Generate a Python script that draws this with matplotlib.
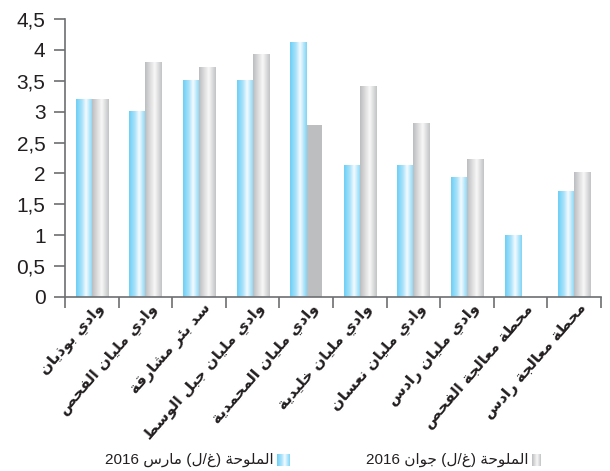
import numpy as np
import matplotlib
matplotlib.use('Agg')
import matplotlib.pyplot as plt
import matplotlib.transforms as mtransforms
from matplotlib.colors import LinearSegmentedColormap
from matplotlib.ticker import FuncFormatter

# salinity (g/L) per sampling station
stations = [
    'وادي بوذيان',
    'وادي مليان الفحص',
    'سد بئر مشارقة',
    'وادي مليان جبل الوسط',
    'وادي مليان المحمدية',
    'وادي مليان خليدية',
    'وادي مليان نعسان',
    'وادي مليان رادس',
    'محطة معالجة الفحص',
    'محطة معالجة رادس',
]
march_2016 = [3.2, 3.0, 3.5, 3.5, 4.12, 2.13, 2.13, 1.93, 1.0, 1.71]
june_2016 = [3.2, 3.8, 3.72, 3.92, 2.79, 3.41, 2.81, 2.23, 0.0, 2.02]
series_names = ['الملوحة (غ/ل) مارس 2016', 'الملوحة (غ/ل) جوان 2016']
yticks = [0, 0.5, 1, 1.5, 2, 2.5, 3, 3.5, 4, 4.5]

# one June bar is drawn flat instead of with the cylinder shading
flat_june_bar = 4

# --- minimal Arabic shaping (matplotlib has no bidi / joining support) ---
DUAL = {'ئ': 0xFE89, 'ب': 0xFE8F, 'ت': 0xFE95, 'ث': 0xFE99, 'ج': 0xFE9D,
        'ح': 0xFEA1, 'خ': 0xFEA5, 'س': 0xFEB1, 'ش': 0xFEB5, 'ص': 0xFEB9,
        'ض': 0xFEBD, 'ط': 0xFEC1, 'ظ': 0xFEC5, 'ع': 0xFEC9, 'غ': 0xFECD,
        'ف': 0xFED1, 'ق': 0xFED5, 'ك': 0xFED9, 'ل': 0xFEDD, 'م': 0xFEE1,
        'ن': 0xFEE5, 'ه': 0xFEE9, 'ي': 0xFEF1}
RIGHT = {'ا': 0xFE8D, 'ة': 0xFE93, 'د': 0xFEA9, 'ذ': 0xFEAB, 'ر': 0xFEAD,
         'ز': 0xFEAF, 'و': 0xFEED, 'أ': 0xFE83, 'إ': 0xFE87, 'آ': 0xFE81,
         'ى': 0xFEEF}
MIRROR = {'(': ')', ')': '('}


def is_arabic(c):
    return c in DUAL or c in RIGHT


def shape(word):
    out = []
    for i, ch in enumerate(word):
        if not is_arabic(ch):
            out.append(MIRROR.get(ch, ch))
            continue
        prev = word[i - 1] if i > 0 else ''
        nxt = word[i + 1] if i + 1 < len(word) else ''
        joins_prev = prev in DUAL
        joins_next = ch in DUAL and is_arabic(nxt)
        base = DUAL.get(ch, RIGHT.get(ch))
        if joins_prev and joins_next:
            off = 3
        elif joins_prev:
            off = 1
        elif joins_next:
            off = 2
        else:
            off = 0
        out.append(chr(base + off))
    return ''.join(out)[::-1]


def visual(text):
    # right-to-left word order, numbers stay as they are
    words = []
    for w in text.split(' ')[::-1]:
        words.append(w if w.isdigit() else shape(w))
    return ' '.join(words)


def gradient(stops):
    cmap = LinearSegmentedColormap.from_list('g', stops)
    return cmap(np.linspace(0, 1, 64))[np.newaxis, :, :]


blue_grad = gradient([(0, '#6ccff6'), (0.35, '#a9e3fa'), (0.6, '#f4fbff'), (1, '#7fd5f7')])
grey_grad = gradient([(0, '#bcbdc0'), (0.3, '#dcdcdd'), (0.58, '#f8f8f8'), (1, '#c2c3c5')])

fig = plt.figure(figsize=(6.10, 4.71), dpi=100)
ax = fig.add_axes([65 / 610, 1 - 297 / 471, 536 / 610, 278 / 471])

x = np.arange(len(stations))
w = 0.3
blue_bars = ax.bar(x - w / 2, march_2016, w, color='none', linewidth=0)
grey_bars = ax.bar(x + w / 2, june_2016, w, color='none', linewidth=0)

for bars, grad in [(blue_bars, blue_grad), (grey_bars, grey_grad)]:
    for i, rect in enumerate(bars):
        x0, y0 = rect.get_xy()
        h = rect.get_height()
        if h <= 0:
            continue
        if bars is grey_bars and i == flat_june_bar:
            rect.set_facecolor('#bcbec0')
            continue
        ax.imshow(grad, extent=(x0, x0 + rect.get_width(), y0, y0 + h),
                  aspect='auto', interpolation='bilinear', zorder=2)

ax.set_xlim(-0.5, len(stations) - 0.5)
ax.set_ylim(0, 4.5)
ax.set_aspect('auto')

for side in ['top', 'right']:
    ax.spines[side].set_visible(False)
for side in ['left', 'bottom']:
    ax.spines[side].set_color('#6d6e71')
    ax.spines[side].set_linewidth(1.2)

ax.set_yticks(yticks)
ax.yaxis.set_major_formatter(FuncFormatter(lambda v, p: ('%g' % v).replace('.', ',')))
ax.tick_params(axis='y', length=8, width=1.2, color='#6d6e71', labelsize=15,
               labelcolor='#231f20', pad=6)
for lab in ax.get_yticklabels():
    lab.set_family(['Liberation Sans', 'DejaVu Sans'])

# boundary ticks between stations, labels at the centres
ax.set_xticks(np.arange(-0.5, len(stations)), minor=True)
ax.tick_params(axis='x', which='minor', length=8, width=1.2, color='#6d6e71')
ax.set_xticks(x)
ax.set_xticklabels([visual(s) for s in stations], rotation=49, ha='right',
                   va='top', rotation_mode='anchor', fontsize=11,
                   fontweight='bold', color='#231f20', family='DejaVu Sans')
ax.tick_params(axis='x', which='major', length=0, pad=3)

offset = mtransforms.ScaledTranslation(4 / 100, 0, fig.dpi_scale_trans)
for lab in ax.get_xticklabels():
    lab.set_transform(lab.get_transform() + offset)

# legend: text to the left of a small shaded swatch
legend_items = [(series_names[0], blue_grad, 277, 13), (series_names[1], grey_grad, 532, 9)]
for name, grad, px, pw in legend_items:
    sw = fig.add_axes([px / 610, 1 - 466 / 471, pw / 610, 12 / 471])
    sw.imshow(grad, aspect='auto', extent=(0, 1, 0, 1))
    sw.axis('off')
    fig.text((px - 3) / 610, 1 - 460 / 471, visual(name), ha='right', va='center',
             fontsize=11, color='#231f20', family=['Liberation Sans', 'DejaVu Sans'])

fig.savefig('out.png', dpi=100)
